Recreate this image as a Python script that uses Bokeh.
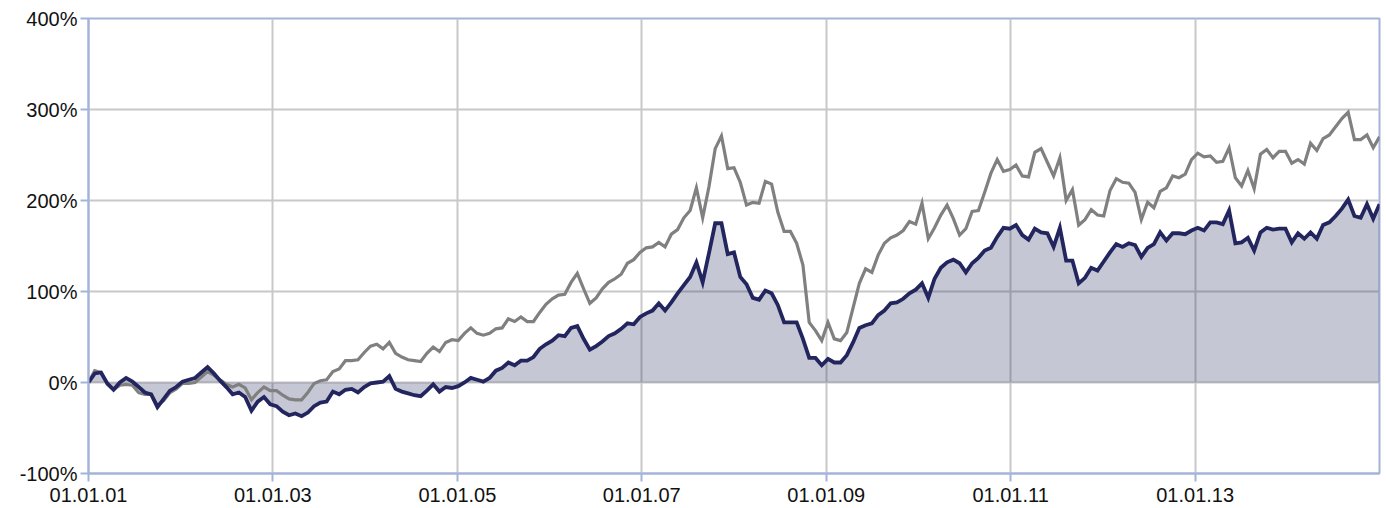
import pandas as pd
from bokeh.plotting import figure
from bokeh.models import (Range1d, FixedTicker, DatetimeTickFormatter,
                          PrintfTickFormatter, ColumnDataSource)
from bokeh.embed import file_html
from bokeh.resources import INLINE

# ---- data (percent change) ----
start_date = "2001-01-01"
end_date = "2015-01-01"

navy_values = [
    # 2001-2003
    0, 10, 11, -1, -8, 0, 5, 1, -5, -11, -13, -27, -18, -9, -5, 1, 3, 5, 11, 17,
    10, 2, -5, -13, -11, -16, -31, -21, -16, -24,
    # 2003-2005
    -26, -32, -36, -34, -37, -33, -26, -22, -21, -10, -13, -8, -7, -11, -5, -1,
    0, 1, 7, -7, -10, -12, -14, -15, -9, -2, -10, -5, -6,
    # 2005-2007
    -4, 0, 5, 3, 1, 5, 13, 16, 22, 19, 24, 24, 28, 37, 42, 46, 52, 51, 60, 62,
    48, 36, 40, 45, 51, 54, 59, 65, 64,
    # 2007-2009
    72, 76, 79, 87, 79, 88, 98, 107, 116, 132, 110, 142, 175, 175, 141, 143,
    116, 108, 93, 91, 101, 98, 85, 66, 66, 66, 48, 27, 27, 19,
    # 2009-2011
    26, 22, 22, 30, 44, 60, 63, 65, 74, 79, 87, 88, 92, 98, 102, 109, 93, 114,
    126, 132, 135, 131, 121, 131, 137, 145, 148, 160, 170, 169,
    # 2011-2013
    173, 162, 157, 169, 165, 164, 149, 170, 134, 134, 109, 115, 126, 123, 133,
    143, 152, 149, 153, 151, 138, 148, 152, 165, 156, 164, 164, 163, 167,
    # 2013-2015
    170, 167, 176, 176, 174, 189, 153, 154, 159, 145, 165, 170, 168, 169, 169,
    154, 164, 158, 165, 158, 173, 176, 183, 191, 201, 183, 181, 196, 180, 196,
]

gray_values = [
    # 2001-2003
    0, 13, 11, -2, -8, -3, -2, -3, -11, -13, -13, -25, -20, -11, -7, -1, -1, 0,
    6, 12, 8, 3, -2, -5, -2, -6, -19, -11, -5, -9,
    # 2003-2005
    -9, -14, -18, -19, -19, -11, -1, 2, 3, 12, 15, 24, 24, 25, 33, 40, 42, 37,
    44, 32, 28, 25, 24, 23, 32, 39, 34, 44, 47,
    # 2005-2007
    46, 54, 60, 54, 52, 54, 59, 60, 70, 67, 72, 67, 67, 77, 86, 92, 96, 97, 110,
    120, 103, 87, 93, 103, 110, 114, 119, 131, 135,
    # 2007-2009
    143, 148, 149, 154, 149, 163, 168, 181, 189, 214, 181, 215, 257, 271, 235,
    236, 220, 195, 198, 197, 221, 218, 187, 166, 166, 153, 129, 66, 57, 46,
    # 2009-2011
    66, 48, 46, 55, 82, 109, 125, 121, 140, 153, 159, 162, 167, 177, 174, 197,
    158, 170, 184, 195, 180, 162, 169, 188, 189, 209, 230, 245, 232, 234,
    # 2011-2013
    239, 227, 226, 253, 257, 242, 227, 247, 200, 212, 173, 179, 190, 184, 183,
    211, 224, 220, 219, 209, 179, 198, 192, 210, 214, 227, 225, 229, 245,
    # 2013-2015
    252, 248, 249, 242, 243, 258, 225, 216, 233, 213, 251, 256, 247, 254, 254,
    241, 245, 240, 263, 255, 268, 272, 281, 290, 297, 267, 267, 272, 258, 270,
]

x_tick_dates = ["2001-01-01", "2003-01-01", "2005-01-01", "2007-01-01",
                "2009-01-01", "2011-01-01", "2013-01-01"]
y_ticks = [-100, 0, 100, 200, 300, 400]

dates = pd.date_range(start_date, end_date, periods=len(navy_values))
source = ColumnDataSource(dict(date=dates, navy=navy_values, gray=gray_values,
                               zero=[0] * len(navy_values)))

AXIS_BLUE = "#a3b3d9"
NAVY = "#23265e"
GRAY = "#808080"
FONT = "Liberation Sans"

p = figure(frame_width=1291, frame_height=455,
           min_border_left=88, min_border_right=7,
           min_border_top=18, min_border_bottom=35,
           x_axis_type="datetime",
           x_range=Range1d(pd.Timestamp(start_date), pd.Timestamp(end_date)),
           y_range=Range1d(-100, 400),
           output_backend="svg", toolbar_location=None)

p.varea(x="date", y1="zero", y2="navy", source=source,
        fill_color=NAVY, fill_alpha=0.26)
p.line(x="date", y="gray", source=source, line_color=GRAY, line_width=3.2,
       line_join="miter")
p.line(x="date", y="navy", source=source, line_color=NAVY, line_width=3.8,
       line_join="miter")

# axes
tick_ms = [pd.Timestamp(d).value / 1e6 for d in x_tick_dates]
p.xaxis.ticker = FixedTicker(ticks=tick_ms)
fmt = "%d.%m.%y"
p.xaxis.formatter = DatetimeTickFormatter(
    years=fmt, months=fmt, days=fmt, hours=fmt, minutes=fmt, seconds=fmt,
    milliseconds=fmt, microseconds=fmt, hourmin=fmt, minsec=fmt)
p.yaxis.ticker = FixedTicker(ticks=y_ticks)
p.yaxis.formatter = PrintfTickFormatter(format="%d%%")

for ax in (p.xaxis[0], p.yaxis[0]):
    ax.axis_line_color = AXIS_BLUE
    ax.axis_line_width = 2
    ax.major_tick_line_color = AXIS_BLUE
    ax.major_tick_line_width = 2
    ax.major_tick_out = 8
    ax.major_tick_in = 0
    ax.minor_tick_line_color = None
    ax.major_label_text_font = FONT
    ax.major_label_text_font_size = "20px"
    ax.major_label_text_color = "#111111"
p.xaxis.major_label_standoff = 6
p.yaxis.major_label_standoff = 3

p.xgrid.ticker = FixedTicker(ticks=tick_ms)
p.ygrid.ticker = FixedTicker(ticks=y_ticks)
for g in (p.xgrid[0], p.ygrid[0]):
    g.grid_line_color = "#c8c8c8"
    g.grid_line_width = 2

p.outline_line_color = AXIS_BLUE
p.outline_line_width = 2
p.background_fill_color = "white"
p.border_fill_color = "white"

open("out.html", "w").write(file_html(p, INLINE))
